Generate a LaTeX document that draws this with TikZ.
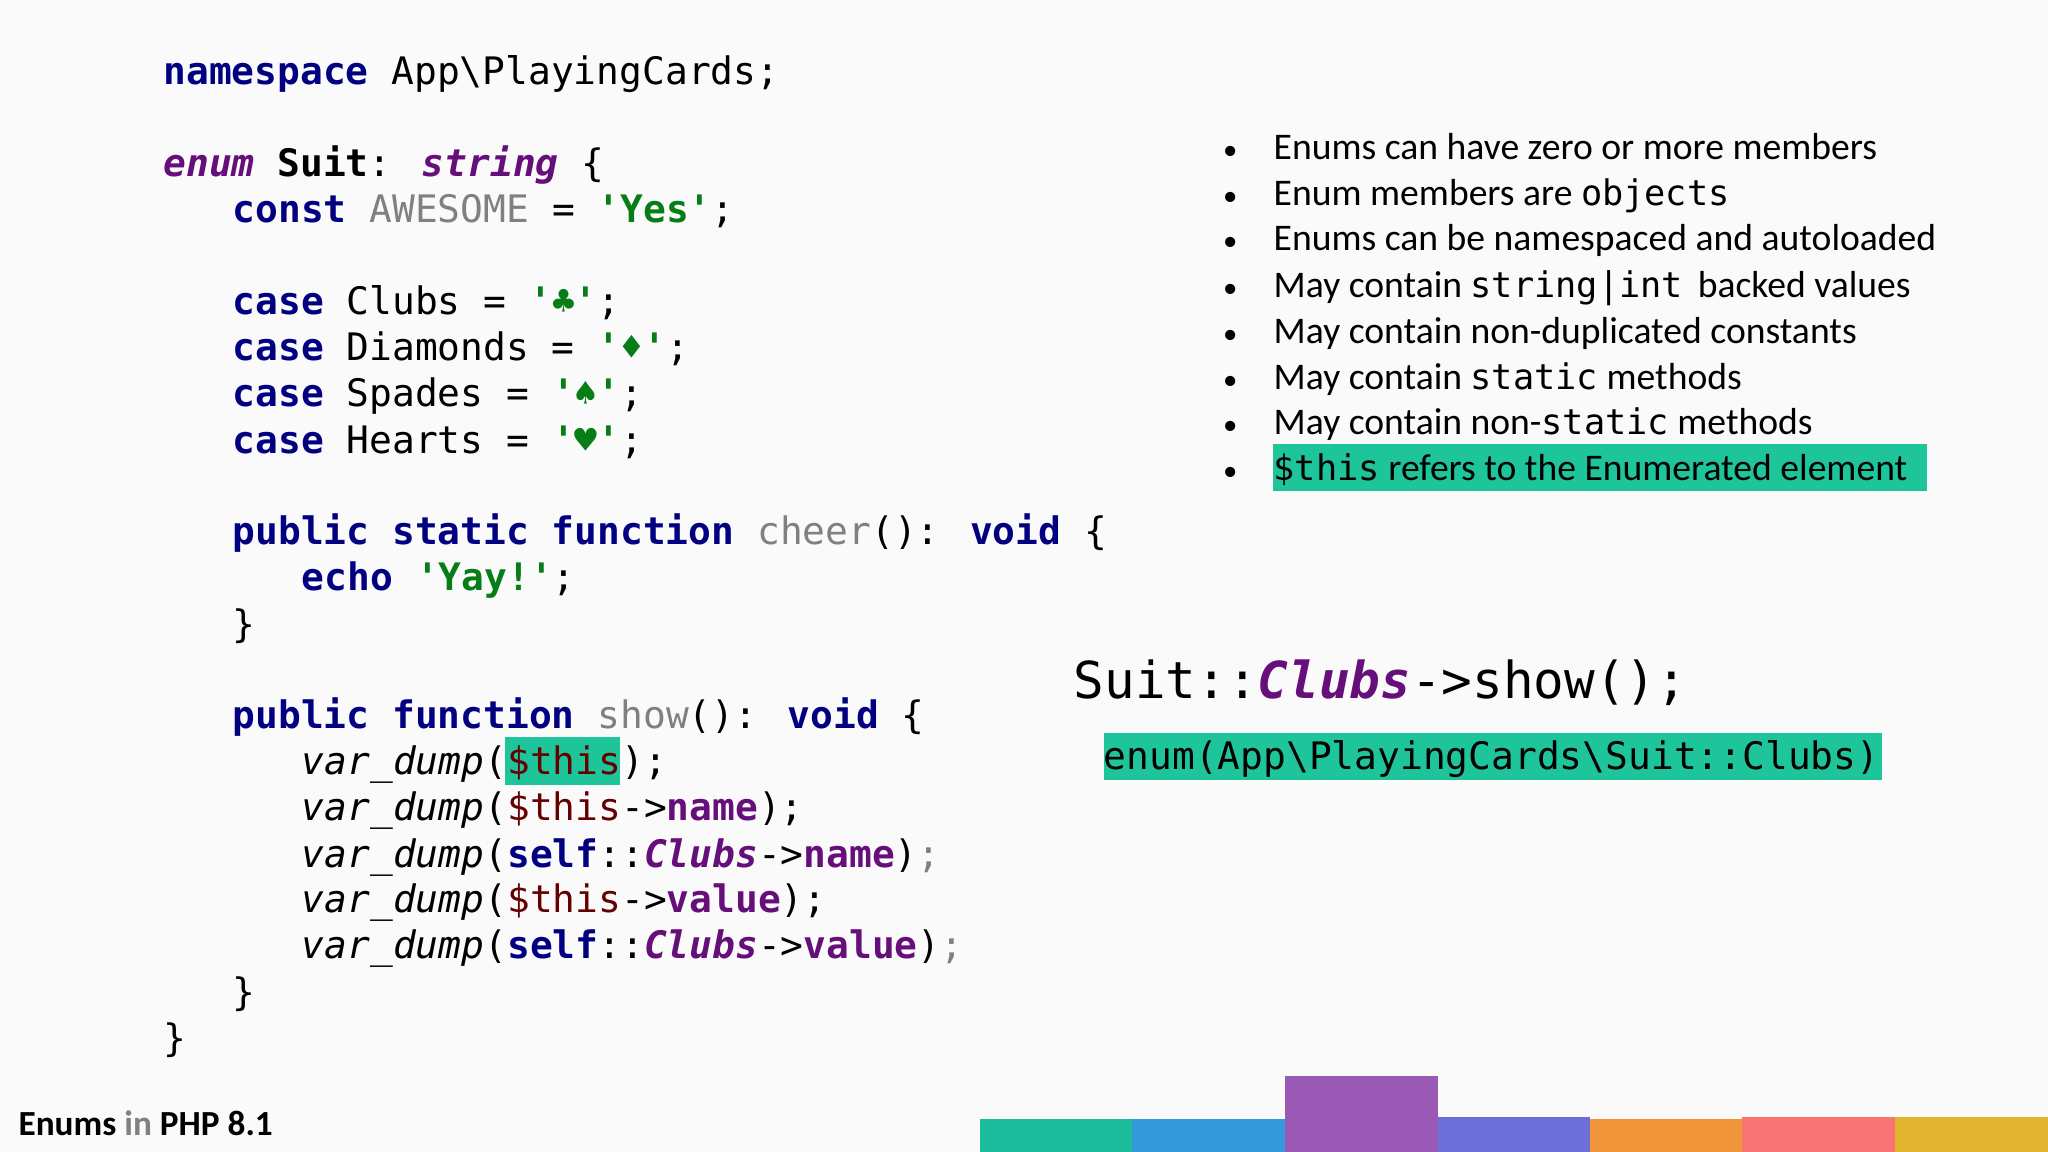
\documentclass[tikz,border=0pt]{standalone}
\usepackage{fontspec}
\setmainfont{Carlito}
\setmonofont{DejaVu Sans Mono}
\newfontfamily\codefont{DejaVu Sans Mono}
\definecolor{kwc}{HTML}{000080}
\definecolor{ppc}{HTML}{660E7A}
\definecolor{stc}{HTML}{067D17}
\definecolor{grc}{HTML}{808080}
\definecolor{thc}{HTML}{660000}
\definecolor{hlc}{HTML}{1EC49A}
\definecolor{bar1}{HTML}{1ABC9C}
\definecolor{bar2}{HTML}{3498DB}
\definecolor{bar3}{HTML}{9B59B6}
\definecolor{bar4}{HTML}{6C6FD8}
\definecolor{bar5}{HTML}{F0953A}
\definecolor{bar6}{HTML}{F87575}
\definecolor{bar7}{HTML}{E1B530}
\newcommand{\kwd}[1]{\textcolor{kwc}{\bfseries #1}}
\newcommand{\purp}[1]{\textcolor{ppc}{\bfseries\itshape #1}}
\newcommand{\strg}[1]{\textcolor{stc}{\bfseries #1}}
\newcommand{\gry}[1]{\textcolor{grc}{#1}}
\newcommand{\mth}[1]{\textcolor{ppc}{\bfseries #1}}
\newcommand{\thv}{\textcolor{thc}{\$this}}
\newcommand{\vd}{\textit{var\_dump}}
\begin{document}
\begin{tikzpicture}[x=1pt,y=-1pt,
  code/.style={anchor=base west,inner sep=0pt,font=\codefont\fontsize{29}{29}\selectfont},
  bul/.style={anchor=base west,inner sep=0pt,font=\fontsize{28.8}{28}\selectfont},
  dot/.style={anchor=base,inner sep=0pt,font=\fontsize{22}{22}\selectfont}]
\fill[white!98!black] (0,0) rectangle (1568,882);
\useasboundingbox (0,0) rectangle (1568,882);
% highlights
\fill[hlc] (387,564) rectangle (475,601);
\fill[hlc] (975,340) rectangle (1475,376);
\fill[hlc] (845,561) rectangle (1441,597);
% code
\node[code] (l1) at (125,65) {\kwd{namespace} App\textbackslash PlayingCards;};
\node[code] (l2) at (125,135) {\purp{enum} \textbf{Suit}: \purp{string} \{};
\node[code] (l3) at (178,170) {\kwd{const} \gry{AWESOME} = \strg{'Yes'};};
\node[code] (l4) at (178,241) {\kwd{case} Clubs = \strg{'♣'};};
\node[code] (l5) at (178,276) {\kwd{case} Diamonds = \strg{'♦'};};
\node[code] (l6) at (178,311) {\kwd{case} Spades = \strg{'♠'};};
\node[code] (l7) at (178,347) {\kwd{case} Hearts = \strg{'♥'};};
\node[code] (l8) at (178,417) {\kwd{public static function} \gry{cheer}(): \kwd{void} \{};
\node[code] (l9) at (231,452) {\kwd{echo} \strg{'Yay!'};};
\node[code] (l10) at (178,488) {\}};
\node[code] (l11) at (178,558) {\kwd{public function} \gry{show}(): \kwd{void} \{};
\node[code] (l12) at (231,593) {\vd(\thv);};
\node[code] (l13) at (231,628) {\vd(\thv->\mth{name});};
\node[code] (l14) at (231,664) {\vd(\kwd{self}::\purp{Clubs}->\mth{name})\gry{;}};
\node[code] (l15) at (231,699) {\vd(\thv->\mth{value});};
\node[code] (l16) at (231,734) {\vd(\kwd{self}::\purp{Clubs}->\mth{value})\gry{;}};
\node[code] (l17) at (178,770) {\}};
\node[code] (l18) at (125,805) {\}};
% call
\node[anchor=base west,inner sep=0pt,font=\codefont\fontsize{39}{39}\selectfont] (call) at (822,535) {Suit::\purp{Clubs}->show();};
\node[code] (res) at (845,589) {enum(App\textbackslash PlayingCards\textbackslash Suit::Clubs)};
% bullets
\foreach \y/\t [count=\i] in {
 122/{Enums can have zero or more members},
 157/{Enum members are {\codefont\fontsize{27}{27}\selectfont objects}},
 192/{Enums can be namespaced and autoloaded},
 228/{May contain {\codefont\fontsize{27}{27}\selectfont string|int}\, backed values},
 263/{May contain non-duplicated constants},
 298/{May contain {\codefont\fontsize{27}{27}\selectfont static} methods},
 333/{May contain non-{\codefont\fontsize{27}{27}\selectfont static} methods},
 368/{{\codefont\fontsize{27}{27}\selectfont\$this} refers to the Enumerated element}}{
 \node[dot] (d\i) at (942,\y) {•};
 \node[bul] (b\i) at (975,\y) {\t};
}
\node[anchor=base west,inner sep=0pt,font=\fontsize{27}{27}\selectfont\bfseries] (title) at (14,869) {Enums \textcolor{grc}{in} PHP 8.1};
% bars
\fill[bar1] (750,857) rectangle (867,882);
\fill[bar2] (867,857) rectangle (984,882);
\fill[bar3] (984,824) rectangle (1101,882);
\fill[bar4] (1101,855) rectangle (1217,882);
\fill[bar5] (1217,857) rectangle (1334,882);
\fill[bar6] (1334,855) rectangle (1451,882);
\fill[bar7] (1451,855) rectangle (1568,882);
\end{tikzpicture}
\end{document}
